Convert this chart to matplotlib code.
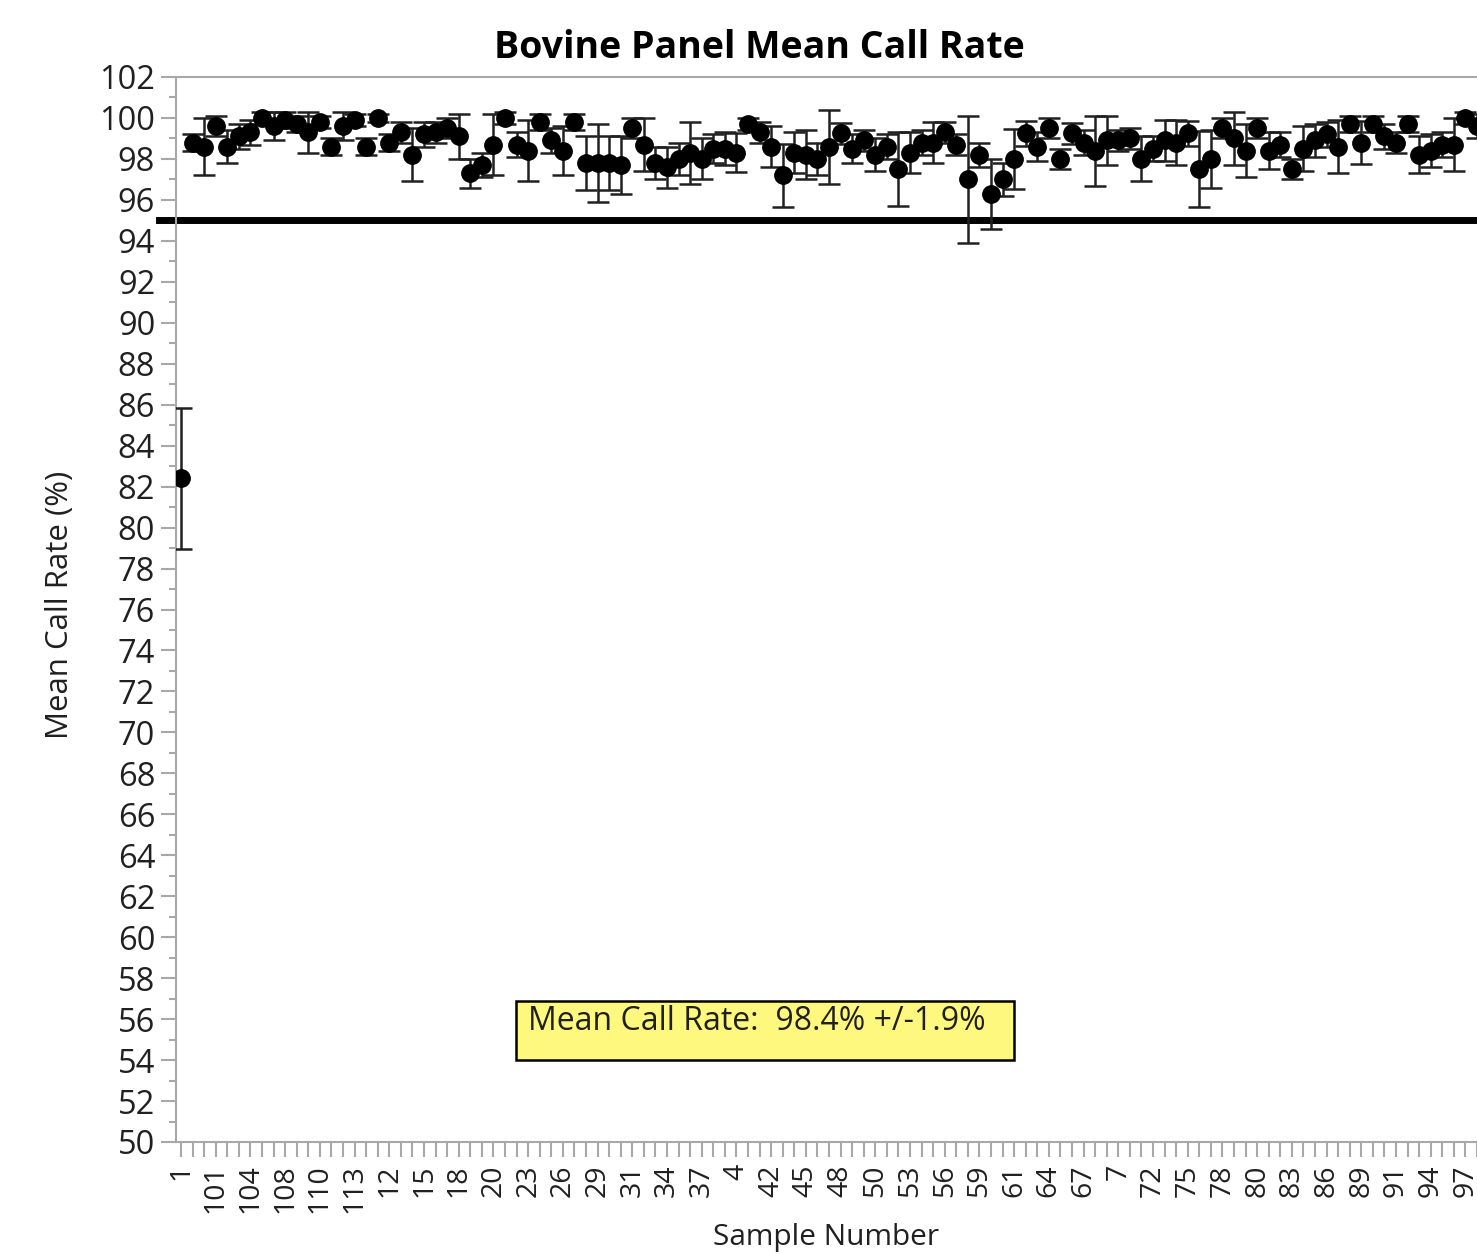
import matplotlib
matplotlib.use('Agg')
import matplotlib.pyplot as plt
from matplotlib.patches import Rectangle
from matplotlib.ticker import MultipleLocator

plt.rcParams['font.family'] = ['Open Sans', 'DejaVu Sans']

# sample names in the (string sorted) order of the chart
samples = ['1', '10', '100', '101', '102', '103', '104', '106', '107', '108',
           '109', '11', '110', '111', '112', '113', '114', '115', '12', '13',
           '14', '15', '16', '17', '18', '19', '2', '20', '21', '22',
           '23', '24', '25', '26', '27', '28', '29', '3', '30', '31',
           '32', '33', '34', '35', '36', '37', '38', '39', '4', '40',
           '41', '42', '43', '44', '45', '46', '47', '48', '49', '5',
           '50', '51', '52', '53', '54', '55', '56', '57', '58', '59',
           '6', '60', '61', '62', '63', '64', '65', '66', '67', '68',
           '69', '7', '70', '71', '72', '73', '74', '75', '76', '77',
           '78', '79', '8', '80', '81', '82', '83', '84', '85', '86',
           '87', '88', '89', '9', '90', '91', '92', '93', '94', '95',
           '96', '97', '98']

# mean call rate per sample (%)
mean_rate = [82.4, 98.8, 98.6, 99.6, 98.6, 99.1, 99.3, 100.0, 99.6, 99.9,
             99.7, 99.3, 99.8, 98.6, 99.6, 99.9, 98.6, 100.0, 98.8, 99.3,
             98.2, 99.2, 99.3, 99.5, 99.1, 97.3, 97.7, 98.7, 100.0, 98.7,
             98.4, 99.8, 98.9, 98.4, 99.8, 97.8, 97.8, 97.8, 97.7, 99.5,
             98.7, 97.8, 97.6, 98.0, 98.3, 98.0, 98.5, 98.5, 98.3, 99.7,
             99.3, 98.6, 97.2, 98.3, 98.2, 98.0, 98.6, 99.25, 98.5, 98.9,
             98.2, 98.6, 97.5, 98.3, 98.8, 98.8, 99.3, 98.7, 97.0, 98.2,
             96.3, 97.0, 98.0, 99.25, 98.6, 99.5, 98.0, 99.25, 98.8, 98.4,
             98.9, 98.9, 99.0, 98.0, 98.5, 98.9, 98.8, 99.25, 97.5, 98.0,
             99.5, 99.0, 98.4, 99.5, 98.4, 98.7, 97.5, 98.5, 98.9, 99.2,
             98.6, 99.7, 98.8, 99.7, 99.1, 98.8, 99.7, 98.2, 98.4, 98.7,
             98.7, 100.0, 99.6]

# +/- spread per sample
spread = [3.45, 0.4, 1.4, 0.5, 0.8, 0.6, 0.6, 0.3, 0.7, 0.4,
          0.4, 1.0, 0.3, 0.4, 0.7, 0.3, 0.4, 0.2, 0.4, 0.5,
          1.3, 0.6, 0.5, 0.5, 1.1, 0.7, 0.6, 1.5, 0.3, 0.6,
          1.5, 0.4, 0.6, 1.2, 0.4, 1.3, 1.9, 1.3, 1.4, 0.5,
          1.3, 0.8, 1.0, 0.8, 1.5, 1.0, 0.7, 0.8, 0.95, 0.3,
          0.5, 1.0, 1.55, 1.0, 1.2, 0.8, 1.8, 0.5, 0.7, 0.5,
          0.8, 0.6, 1.8, 1.0, 0.6, 1.0, 0.5, 0.5, 3.1, 0.6,
          1.7, 0.8, 1.45, 0.6, 0.7, 0.5, 0.5, 0.5, 0.6, 1.7,
          1.2, 0.5, 0.5, 1.1, 0.6, 1.0, 1.1, 0.6, 1.85, 1.4,
          0.5, 1.3, 1.3, 0.5, 0.9, 0.6, 0.5, 1.1, 0.8, 0.6,
          1.3, 0.4, 1.05, 0.4, 0.6, 0.5, 0.4, 0.9, 0.8, 0.6,
          1.3, 0.3, 0.6]

threshold = 95
summary = 'Mean Call Rate:  98.4% +/-1.9%'

W, H = 1477, 1254
fig = plt.figure(figsize=(W / 100, H / 100), dpi=100)
ax = fig.add_axes([176 / W, 1 - 1142 / H, 1 - 176 / W, (1142 - 77) / H])

xs = list(range(len(samples)))
ax.errorbar(xs, mean_rate, yerr=spread, fmt='o', color='black',
            markersize=12.5, ecolor='#202020', elinewidth=1.8,
            capsize=8, capthick=1.8, zorder=3)
ax.axhline(threshold, xmin=-0.013, xmax=1, color='black', lw=5,
           clip_on=False, zorder=2)

ax.set_xlim(-0.43, 111.92)
ax.set_ylim(50, 102)
ax.yaxis.set_major_locator(MultipleLocator(2))
ax.yaxis.set_minor_locator(MultipleLocator(1))
ax.set_xticks(xs)
ax.set_xticklabels([s if i % 3 == 0 else '' for i, s in enumerate(samples)],
                   rotation=90)

grey = '#a8a8a8'
for side in ['left', 'top', 'bottom']:
    ax.spines[side].set_color(grey)
    ax.spines[side].set_linewidth(1.5)
ax.spines['right'].set_visible(False)
ax.tick_params(axis='y', which='major', length=11, width=1.5, color=grey,
               labelsize=23.5, labelcolor='#202020', pad=4)
ax.tick_params(axis='y', which='minor', length=5, width=1.5, color=grey)
ax.tick_params(axis='x', length=11, width=1.5, color=grey,
               labelsize=20.5, labelcolor='#202020', pad=5)

fig.text(759 / W, 1 - 58 / H, 'Bovine Panel Mean Call Rate', ha='center',
         va='baseline', fontsize=27, fontweight='bold', color='black')
fig.text(60 / W, 1 - 605 / H, 'Mean Call Rate (%)', rotation=90,
         ha='center', va='center', fontsize=22.5, color='#202020')
fig.text(826 / W, 1 - 1245 / H, 'Sample Number', ha='center',
         va='baseline', fontsize=21.5, color='#202020')

fig.patches.append(Rectangle((516 / W, 1 - 1060 / H), (1014 - 516) / W,
                             (1060 - 1001) / H, transform=fig.transFigure,
                             facecolor='#fff87e', edgecolor='black', lw=1.8))
fig.text(528 / W, 1 - 1030 / H, summary, ha='left', va='baseline',
         fontsize=23, color='#202020')

fig.savefig('out.png', dpi=100)
